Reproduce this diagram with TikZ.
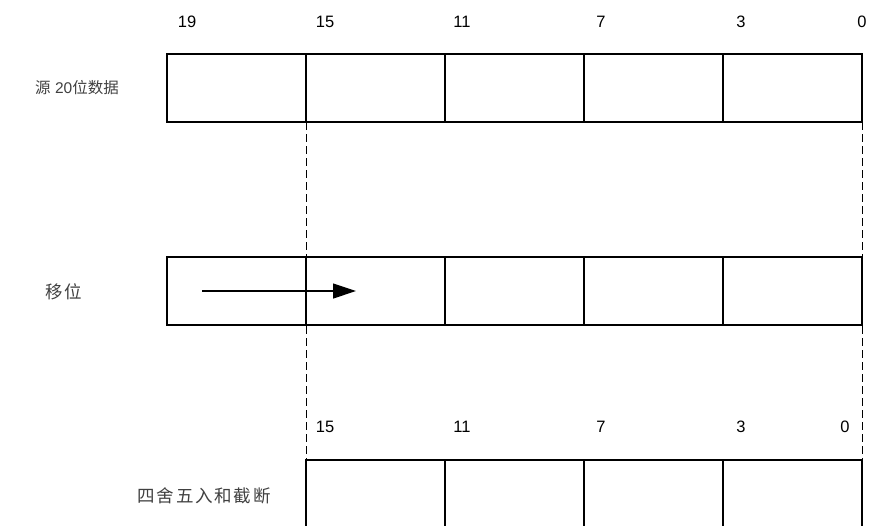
\documentclass[tikz,border=0pt]{standalone}
\usepackage{fontspec}
\setmainfont{Liberation Sans}
\newfontfamily\cjk{Noto Sans CJK SC}
\newfontfamily\cjkwide[LetterSpace=10]{Noto Sans CJK SC}
\usetikzlibrary{arrows.meta,positioning}
\tikzset{
  bw/cell/.style={
    draw=black, line width=1.3pt, minimum width=139pt, minimum height=68pt,
    inner sep=0pt, outer sep=0pt
  },
  bw/bit/.style={font=\fontsize{16.5}{19}\selectfont, inner sep=0pt},
  bw/row/.style={font=\fontsize{15.5}{18}\selectfont, text=black!75, inner sep=0pt},
  bw/wide/.style={font=\cjkwide\fontsize{17.5}{20}\selectfont, text=black!75, inner sep=0pt},
  bw/guide/.style={black, line width=0.9pt, dash pattern=on 8pt off 4pt},
  bw/shift/.style={-{Triangle[length=23pt, width=15pt]}, black, line width=1.2pt}
}
\begin{document}
\begin{tikzpicture}[x=1pt, y=-1pt]
  \useasboundingbox (0,0) rectangle (869,525);

  % --- source 20 bits ---
  \node[bw/row] (lsrc) at (77,88) {{\cjk 源} 20{\cjk 位数据}};
  \foreach \i in {1,...,5}
    \node[bw/cell] (src\i) at ({97.5+139*\i},88) {};
  \foreach \b/\x in {19/187,15/325,11/462,7/601,3/741,0/862}
    \node[bw/bit] (tb\b) at (\x,22) {\b};

  % --- shift ---
  \node[bw/wide] (lsh) at (64,292) {移位};
  \foreach \i in {1,...,5}
    \node[bw/cell] (sh\i) at ({97.5+139*\i},291) {};
  \coordinate (shA) at (202,291);
  \coordinate (shB) at (356,291);
  \draw[bw/shift] (shA) -- (shB);

  % --- round and truncate ---
  \node[bw/wide] (lrd) at (204,496) {四舍五入和截断};
  \foreach \i in {1,...,4}
    \node[bw/cell] (rd\i) at ({236.5+139*\i},494) {};
  \foreach \b/\x in {15/325,11/462,7/601,3/741,0/845}
    \node[bw/bit] (bb\b) at (\x,427) {\b};

  \draw[bw/guide] (src2.south west) -- (rd1.north west);
  \draw[bw/guide] (src5.south east) -- (rd4.north east);
\end{tikzpicture}
\end{document}
